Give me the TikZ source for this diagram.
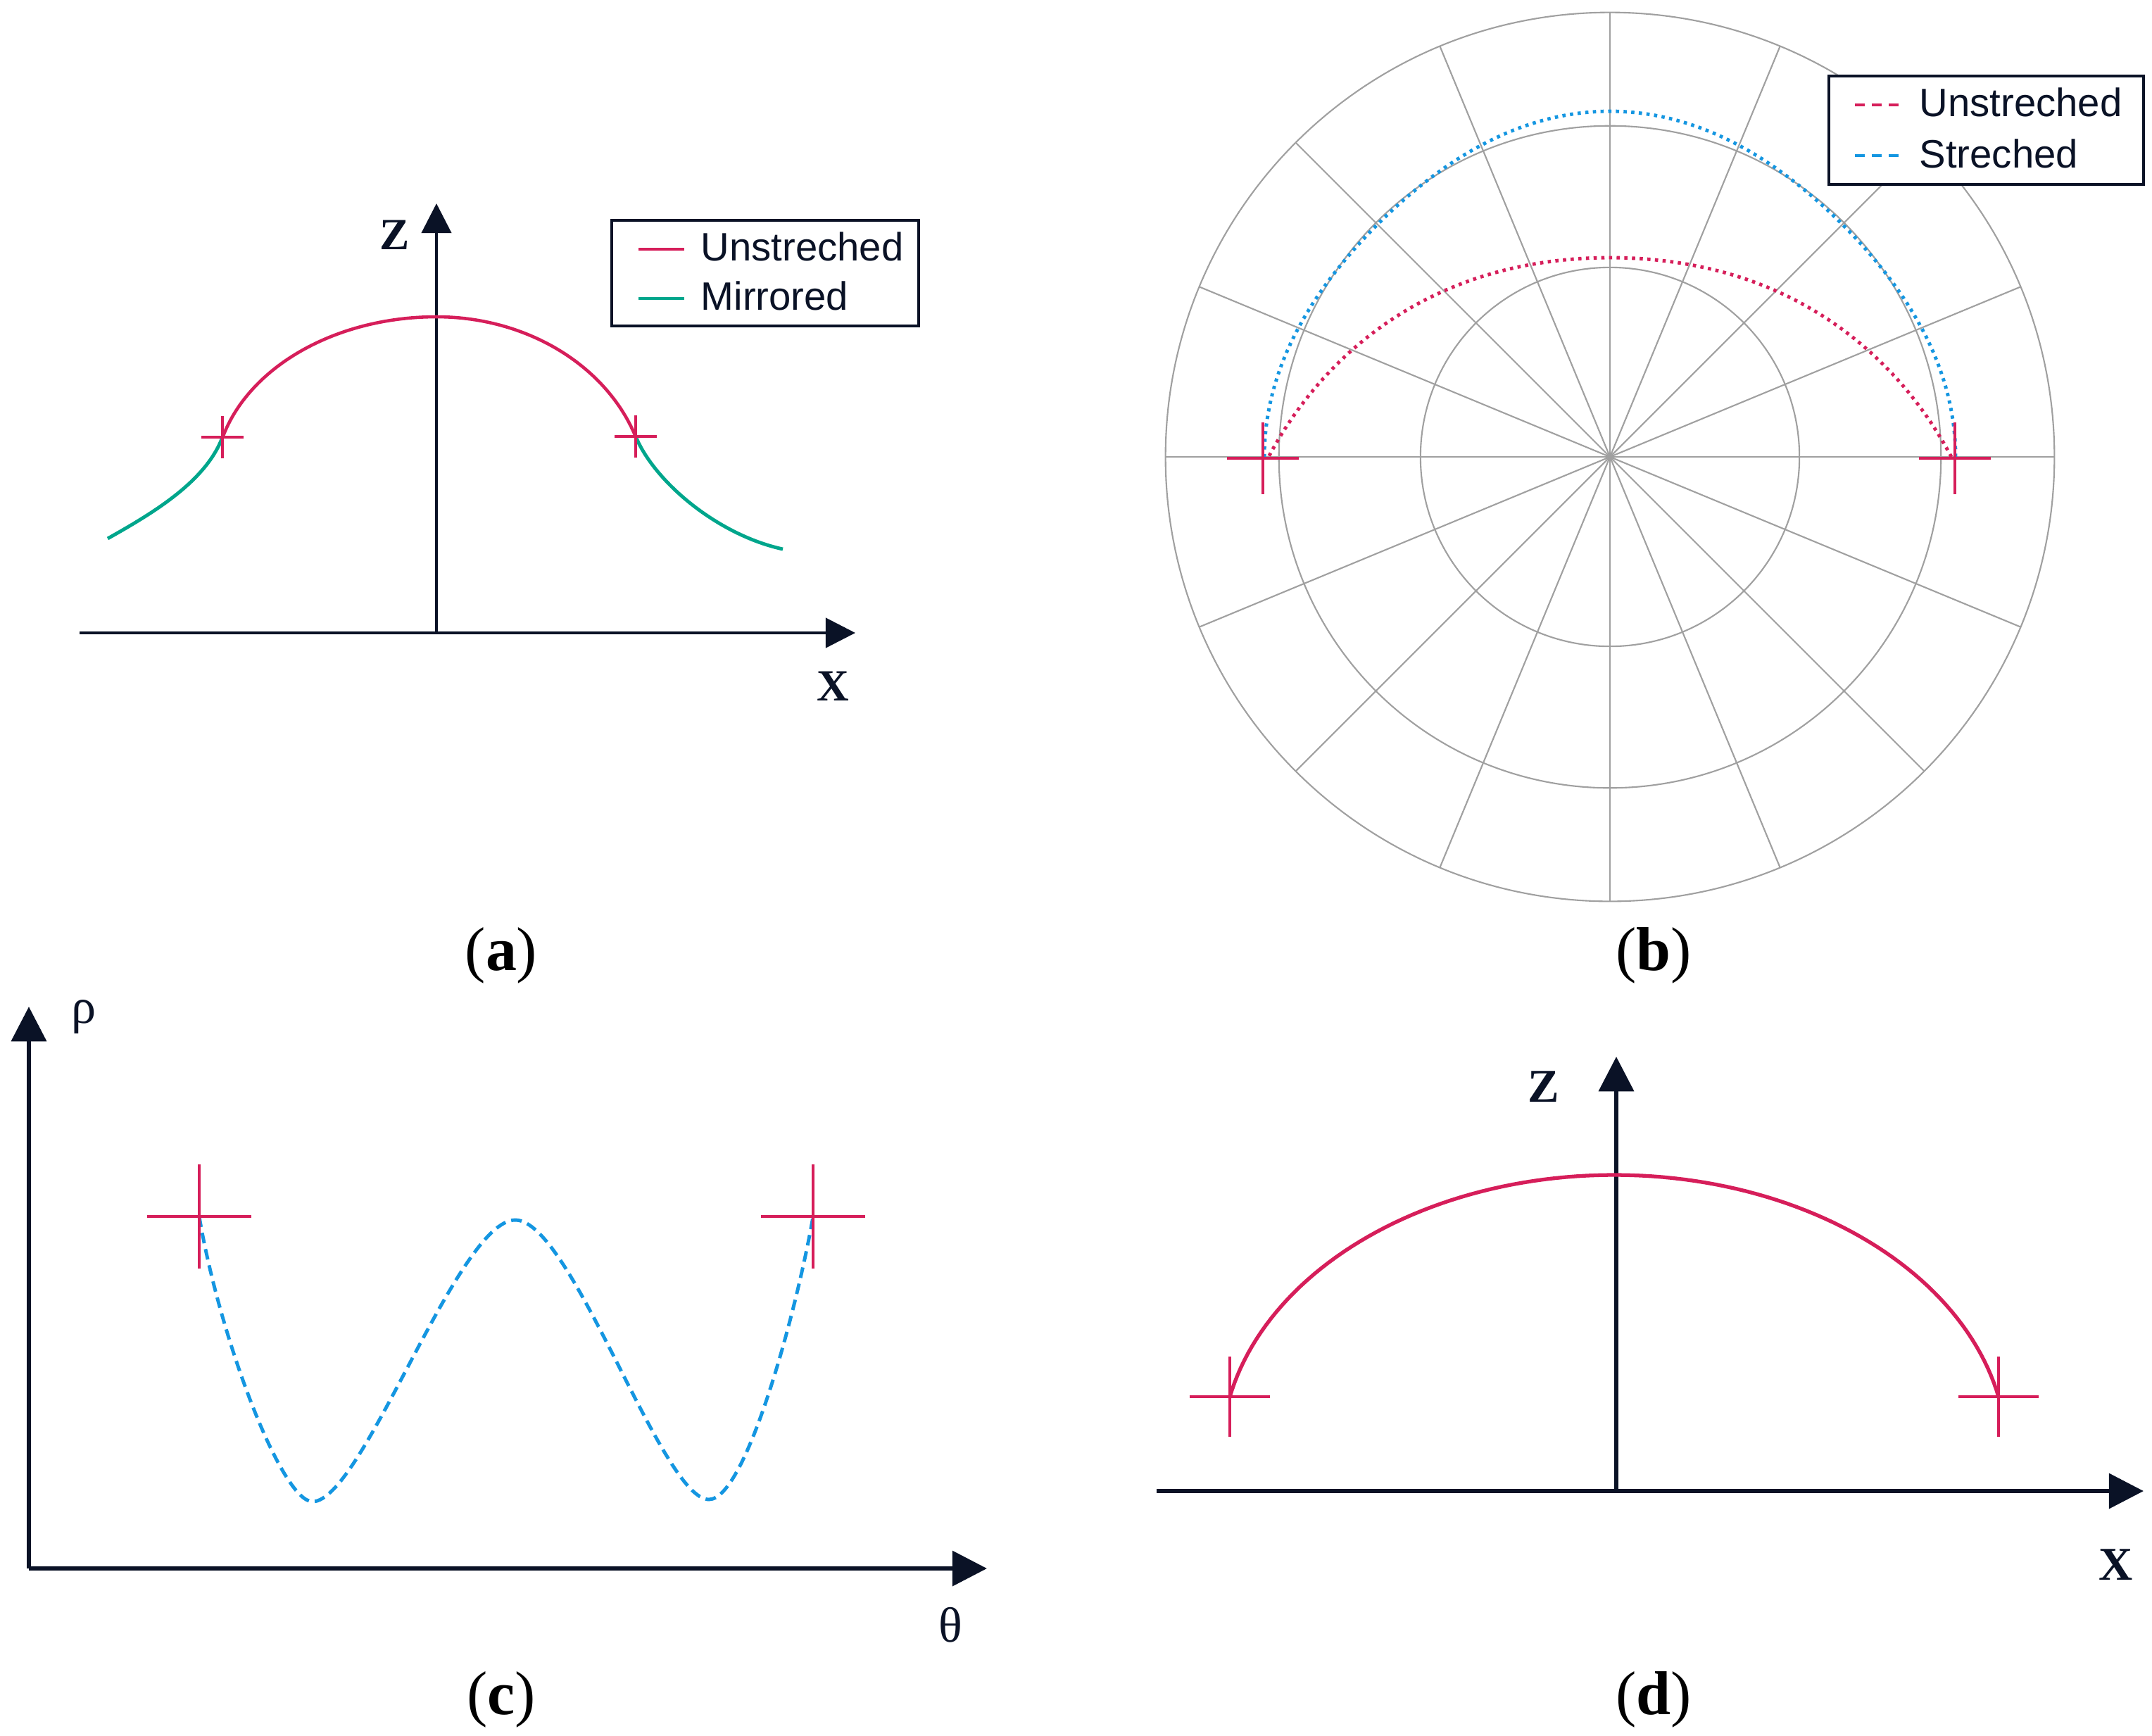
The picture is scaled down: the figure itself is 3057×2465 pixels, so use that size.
\documentclass[tikz,border=0pt]{standalone}
\usepackage{fontspec}
\setmainfont{Liberation Serif}
\newfontfamily\legendfont{Liberation Sans}
\usetikzlibrary{arrows.meta,shapes.misc}
\definecolor{axisc}{RGB}{10,18,38}
\definecolor{redc}{RGB}{214,30,90}
\definecolor{greenc}{RGB}{0,166,140}
\definecolor{bluec}{RGB}{20,150,225}
\definecolor{gridc}{RGB}{160,160,160}
\begin{document}
\begin{tikzpicture}[x=0.01cm,y=-0.01cm,
  axisA/.style={draw=axisc,line width=1.2pt,-{Triangle[length=12pt,width=12pt]}},
  axisB/.style={draw=axisc,line width=1.8pt,-{Triangle[length=14pt,width=14pt]}},
  crossmark/.style={cross out,draw=redc,rotate=45,inner sep=0pt,outer sep=0pt,minimum size=#1,line width=0.9pt},
  gridline/.style={draw=gridc,line width=0.6pt},
  legbox/.style={draw=axisc,line width=1.1pt,fill=white},
  legtext/.style={anchor=base west,inner sep=0pt,font=\legendfont\fontsize{16}{19}\selectfont,text=axisc},
  axlabA/.style={anchor=base,inner sep=0pt,font=\bfseries\fontsize{18}{20}\selectfont,text=axisc},
  axlabB/.style={anchor=base,inner sep=0pt,font=\bfseries\fontsize{19}{22}\selectfont,text=axisc},
  greek/.style={anchor=base,inner sep=0pt,font=\fontsize{20}{22}\selectfont,text=axisc},
  caption/.style={anchor=base,inner sep=0pt,font=\fontsize{25}{28}\selectfont,text=black},
  redsolid/.style={draw=redc,line width=1.3pt},
  greensolid/.style={draw=greenc,line width=1.4pt},
  reddot/.style={draw=redc,line width=1.4pt,dash pattern=on 1.3pt off 1.8pt},
  bluedot/.style={draw=bluec,line width=1.4pt,dash pattern=on 1.3pt off 1.8pt},
  bluedash/.style={draw=bluec,line width=1.4pt,dash pattern=on 4.3pt off 2.4pt}]
\useasboundingbox[fill=white] (0,0) rectangle (3057,2465);

% ---------------- panel (a)
\coordinate (aO) at (620,899);
\coordinate (aXs) at (113,899);
\coordinate (aXe) at (1215,899);
\coordinate (aZe) at (620,289);
\draw[axisA] (aXs) -- (aXe);
\draw[axisA] (aO) -- (aZe);
\node[axlabA] (aZ) at (561,354) {Z};
\node[axlabA] (aX) at (1183,995) {X};
\draw[redsolid] plot[domain=15.2:90,samples=60,variable=\t] ({620-315*cos(\t)},{683-233*sin(\t)});
\draw[redsolid] plot[domain=90:19.4,samples=60,variable=\t] ({620+300*cos(\t)},{705-255*sin(\t)});
\coordinate (aL) at (316,621);
\coordinate (aR) at (903,620);
\coordinate (aLe) at (153,765);
\coordinate (aRe) at (1112,780);
\draw[greensolid] (aL) .. controls (292,685) and (215,730) .. (aLe);
\draw[greensolid] (aR) .. controls (930,685) and (1020,760) .. (aRe);
\node[crossmark=0.424cm] (aC1) at (aL) {};
\node[crossmark=0.424cm] (aC2) at (aR) {};
% legend (a)
\draw[legbox] (869,313) rectangle (1305,463);
\coordinate (aL1s) at (907,354); \coordinate (aL1e) at (972,354);
\coordinate (aL2s) at (907,424); \coordinate (aL2e) at (972,424);
\draw[draw=redc,line width=1.4pt] (aL1s) -- (aL1e);
\draw[draw=greenc,line width=1.4pt] (aL2s) -- (aL2e);
\node[legtext] (aT1) at (995,370) {Unstreched};
\node[legtext] (aT2) at (995,440) {Mirrored};
\node[caption] (capA) at (712,1378) {(\textbf{a})};

% ---------------- panel (b)
\coordinate (bO) at (2287,649);
\foreach \r in {2.69cm,4.70cm,6.31cm} \draw[gridline] (bO) circle[radius=\r];
\foreach \a in {0,22.5,...,337.5} \draw[gridline] (bO) -- ++(\a:6.31cm);
\begin{scope}[shift={(2287,649)}]
\draw[bluedot] plot[domain=0:180,samples=121,variable=\t] ({(491-24*sin(2*\t)^2)*cos(\t)},{-(491-24*sin(2*\t)^2)*sin(\t)});
\draw[reddot] plot[domain=0:180,samples=121,variable=\t] ({(283+202*((\t-90)/90)^2)*cos(\t)},{-(283+202*((\t-90)/90)^2)*sin(\t)});
\end{scope}
\node[crossmark=0.72cm] (bC1) at (1794,651) {};
\node[crossmark=0.72cm] (bC2) at (2777,651) {};
% legend (b)
\draw[legbox] (2598,108) rectangle (3045,262);
\coordinate (bL1s) at (2635,149); \coordinate (bL1e) at (2697,149);
\coordinate (bL2s) at (2635,221); \coordinate (bL2e) at (2697,221);
\draw[draw=redc,line width=1.4pt,dash pattern=on 4pt off 2.8pt] (bL1s) -- (bL1e);
\draw[draw=bluec,line width=1.4pt,dash pattern=on 4pt off 2.8pt] (bL2s) -- (bL2e);
\node[legtext] (bT1) at (2726,165) {Unstreched};
\node[legtext] (bT2) at (2726,238) {Streched};
\node[caption] (capB) at (2349,1378) {(\textbf{b})};

% ---------------- panel (c)
\coordinate (cO) at (41,2228);
\coordinate (cXe) at (1402,2228);
\coordinate (cYe) at (41,1430);
\draw[axisB] (cO) -- (cXe);
\draw[axisB] (cO) -- (cYe);
\node[greek] (cRho) at (119,1453) {ρ};
\node[greek] (cTheta) at (1350,2332) {θ};
\coordinate (cS) at (283,1728);
\coordinate (cM1) at (444,2133);
\coordinate (cP) at (732,1733);
\coordinate (cM2) at (1007,2130);
\coordinate (cE) at (1155,1728);
\draw[bluedash] (cS) .. controls (312,1900) and (400,2133) .. (cM1)
  .. controls (515,2133) and (650,1733) .. (cP)
  .. controls (812,1733) and (940,2130) .. (cM2)
  .. controls (1060,2130) and (1132,1860) .. (cE);
\node[crossmark=1.047cm,line width=1.3pt] (cC1) at (cS) {};
\node[crossmark=1.047cm,line width=1.3pt] (cC2) at (cE) {};
\node[caption] (capC) at (712,2435) {(\textbf{c})};

% ---------------- panel (d)
\coordinate (dO) at (2296,2118);
\coordinate (dXs) at (1643,2118);
\coordinate (dXe) at (3045,2118);
\coordinate (dZe) at (2296,1501);
\draw[axisB] (dXs) -- (dXe);
\draw[axisB] (dO) -- (dZe);
\node[axlabB] (dZ) at (2193,1565) {Z};
\node[axlabB] (dX) at (3006,2244) {X};
\draw[draw=redc,line width=1.5pt] plot[domain=11.7:168.3,samples=100,variable=\t] ({2293+558*cos(\t)},{2066-397*sin(\t)});
\node[crossmark=0.806cm] (dC1) at (1747,1984) {};
\node[crossmark=0.806cm] (dC2) at (2839,1984) {};
\node[caption] (capD) at (2349,2435) {(\textbf{d})};
\end{tikzpicture}
\end{document}
